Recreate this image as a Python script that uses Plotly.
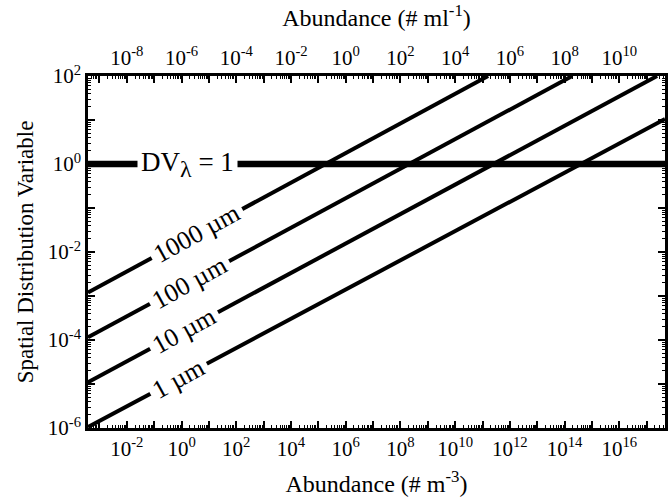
import numpy as np
import plotly.graph_objects as go

# ---- data ----
size_labels = ["1000 µm", "100 µm", "10 µm", "1 µm"]
# endpoints of each straight log-log line (abundance in # m^-3, spatial distribution variable)
line_abund = [[3.8e-4, 1.6e11], [3.8e-4, 1.9e14], [3.8e-4, 2.4e17], [3.8e-4, 4.7e17]]
line_dv = [[1.2e-3, 100.0], [1.15e-4, 100.0], [1.1e-5, 100.0], [1.05e-6, 10.5]]
dv1_abund = [3.8e-4, 4.7e17]
dv1_value = [1.0, 1.0]

bottom_tick_exp = [-2, 0, 2, 4, 6, 8, 10, 12, 14, 16]
top_tick_exp = [-8, -6, -4, -2, 0, 2, 4, 6, 8, 10]
y_tick_exp = [-6, -4, -2, 0, 2]

# ---- layout constants ----
FONT = "Liberation Serif"
XR = [-3.42, 17.67]
YR = [-6, 2]
label_x_log = [0.55, 0.30, 0.10, -0.10]
dv_label_x_log = 0.2
angle = -29

fig = go.Figure()
for lab, xs, ys in zip(size_labels, line_abund, line_dv):
    fig.add_trace(go.Scatter(x=xs, y=ys, mode="lines", line=dict(color="black", width=4),
                             showlegend=False, hoverinfo="skip"))
fig.add_trace(go.Scatter(x=dv1_abund, y=dv1_value, mode="lines", line=dict(color="black", width=6.5),
                         showlegend=False, hoverinfo="skip"))
# invisible trace on top axis
fig.add_trace(go.Scatter(x=[10 ** (XR[0] - 6), 10 ** (XR[1] - 6)], y=[1, 1], xaxis="x2", mode="lines",
                         line=dict(width=0), opacity=0, showlegend=False, hoverinfo="skip"))

def interp_log(xs, ys, lx):
    lx0, lx1 = np.log10(xs)
    ly0, ly1 = np.log10(ys)
    return ly0 + (ly1 - ly0) * (lx - lx0) / (lx1 - lx0)

for lab, xs, ys, lx in zip(size_labels, line_abund, line_dv, label_x_log):
    ly = interp_log(xs, ys, lx)
    fig.add_annotation(x=lx, y=ly, xref="x", yref="y", text=lab, showarrow=False,
                       textangle=angle, bgcolor="white", borderpad=4,
                       font=dict(family=FONT, size=26, color="black"))
fig.add_annotation(x=dv_label_x_log, y=0, xref="x", yref="y",
                   text="DV<sub><span style='font-size:24px'>λ</span></sub> = 1",
                   showarrow=False, bgcolor="white", borderpad=3,
                   font=dict(family=FONT, size=27, color="black"))

def ticks(exps_all, labeled):
    vals = [10.0 ** k for k in exps_all]
    text = [f"10<sup>{k}</sup>" if k in labeled else "" for k in exps_all]
    return vals, text

bx_vals, bx_text = ticks(range(-3, 18), bottom_tick_exp)
tx_vals, tx_text = ticks(range(-9, 12), top_tick_exp)
y_vals, y_text = ticks(range(-6, 3), y_tick_exp)

common = dict(type="log", showgrid=False, zeroline=False, showline=True, linecolor="black",
              linewidth=2.5, ticks="inside", ticklen=7, tickwidth=1.5, tickcolor="black",
              minor=dict(ticks="inside", ticklen=3, tickwidth=1, tickcolor="black", dtick="D1"),
              tickfont=dict(family=FONT, size=21, color="black"))

fig.update_layout(
    width=670, height=502,
    margin=dict(l=88, r=2, t=76, b=74),
    paper_bgcolor="white", plot_bgcolor="white",
    xaxis=dict(**common, range=XR, tickmode="array", tickvals=bx_vals, ticktext=bx_text,
               title=dict(text="Abundance (# m<sup>-3</sup>)", font=dict(family=FONT, size=24, color="black"),
                          standoff=16)),
    xaxis2=dict(**common, range=[XR[0] - 6, XR[1] - 6], overlaying="x", side="top", anchor="y",
                tickmode="array", tickvals=tx_vals, ticktext=tx_text,
                title=dict(text="Abundance (# ml<sup>-1</sup>)", font=dict(family=FONT, size=24, color="black"),
                           standoff=10)),
    yaxis=dict(**common, range=YR, tickmode="array", tickvals=y_vals, ticktext=y_text, mirror="ticks",
               title=dict(text="Spatial Distribution Variable", font=dict(family=FONT, size=23, color="black"),
                          standoff=8)),
)

fig.write_html("out.html")
